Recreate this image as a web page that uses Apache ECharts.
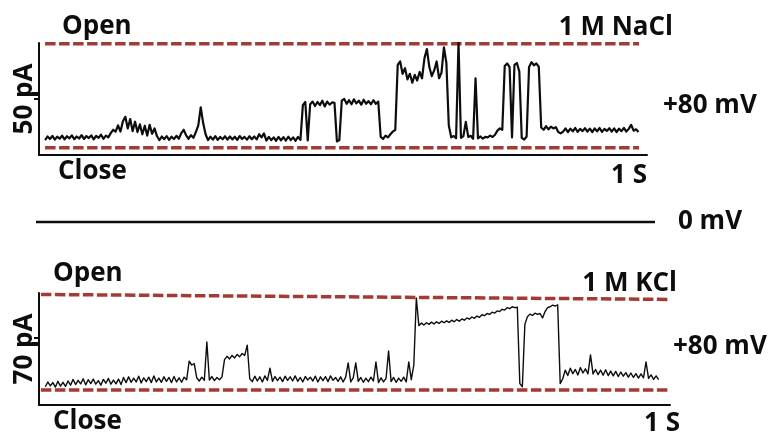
<!DOCTYPE html>
<html>
<head>
<meta charset="utf-8">
<script src="https://cdn.jsdelivr.net/npm/echarts@6/dist/echarts.min.js"></script>
<style>
  html, body { margin: 0; padding: 0; background: #fff; }
  #chart { width: 772px; height: 434px; }
</style>
</head>
<body>
<div id="chart"></div>
<script>
// Single-channel current recordings at +80 mV, sampled every 4 ms starting at 10 ms (values in pA)
const sampleStartMs = 10;
const sampleStepMs = 4;

const naclCurrent = [
  3.4,5.0,3.9,5.3,3.6,4.9,4.0,5.4,3.7,5.1,4.2,5.5,3.8,5.0,4.1,5.6,3.9,5.2,4.3,5.5,3.7,5.3,4.4,5.8,4.0,5.4,4.6,
  6.5,8.0,7.2,
  10.0,7.2,11.8,13.8,8.6,12.8,7.4,11.6,
  7.0,10.4,6.0,9.8,5.4,10.2,6.2,8.6,5.2,
  3.4,5.0,3.8,5.2,3.5,4.9,3.9,5.3,4.0,
  6.5,8.0,5.5,
  4.0,5.6,4.4,
  7.0,10.0,18.0,11.0,
  6.0,3.4,4.9,3.6,5.2,3.5,4.8,3.8,5.1,3.6,5.0,3.7,4.9,3.5,5.2,3.9,4.8,3.6,5.1,3.8,5.0,3.7,
  6.0,4.6,6.4,
  3.2,4.8,3.4,4.6,3.1,4.8,3.3,4.7,3.2,4.9,3.4,4.6,3.1,4.8,3.5,
  19.0,20.4,3.3,19.4,
  20.6,18.6,20.4,19.0,21.0,18.4,20.6,19.2,20.2,
  20.0,2.8,3.4,21.0,
  21.8,19.6,21.2,19.4,21.6,19.8,21.0,19.2,21.4,19.6,20.8,19.4,21.2,19.6,20.6,
  4.8,
  3.9,5.4,4.6,6.0,7.2,
  8.0,37.0,
  38.5,33.0,35.5,30.5,33.0,29.0,32.5,30.0,33.8,31.0,
  40.0,44.0,36.0,
  32.0,34.5,38.5,31.0,33.5,44.8,38.0,
  10.0,
  4.6,5.2,4.2,
  47.0,
  4.4,
  5.2,11.5,4.8,
  5.3,4.0,
  31.0,
  4.2,5.0,4.0,4.8,4.6,5.4,4.8,5.8,
  7.6,8.6,8.0,
  36.5,37.6,36.0,
  4.6,
  37.0,37.8,34.0,
  4.4,3.6,5.0,
  36.0,38.2,36.8,37.6,36.2,
  9.0,
  8.0,9.6,8.2,9.4,8.6,9.2,
  7.0,6.4,
  7.2,8.6,7.0,8.5,7.3,8.8,7.1,8.4,7.4,8.7,7.2,8.5,7.0,8.6,7.3,8.8,7.1,8.4,7.5,8.7,7.2,8.6,7.0,8.5,7.4,8.8,7.2,8.4,10.2,7.6,8.2,7.0
];

const kclCurrent = [
  2.0,5.0,2.6,4.6,1.8,5.4,2.4,4.8,2.2,5.6,3.0,
  6.6,3.4,6.0,3.8,7.0,3.2,6.4,4.0,6.8,3.6,5.8,3.0,6.6,4.2,7.2,3.6,6.2,3.8,6.8,3.4,
  7.8,4.6,8.2,4.8,7.4,5.0,8.6,4.4,7.6,5.2,8.0,4.6,8.8,5.0,7.4,4.8,8.2,5.4,7.8,4.6,8.4,5.0,7.6,4.8,8.0,6.4,
  18.0,15.6,16.4,
  7.6,5.6,8.0,6.0,
  30.0,
  6.2,8.4,5.8,7.8,6.4,8.2,
  19.0,21.0,19.4,21.6,20.0,22.2,20.8,22.8,21.6,
  28.0,
  7.0,
  5.2,8.6,5.6,8.2,5.0,8.8,6.0,
  13.6,
  5.4,8.4,5.8,8.0,5.2,8.6,6.0,8.2,5.6,8.8,5.4,7.8,5.0,8.4,6.2,8.0,5.6,8.6,5.0,8.2,5.8,8.4,5.2,8.8,6.0,7.8,5.4,8.2,5.0,8.0,
  16.9,
  5.0,7.6,16.9,5.4,7.8,4.8,7.4,5.2,8.0,5.6,17.5,4.6,7.6,5.0,7.2,24.4,5.2,7.8,4.8,7.4,5.4,8.0,5.0,17.5,6.4,15.6,
  57.5,
  40.2,41.8,40.6,42.0,41.0,42.4,41.2,42.6,41.6,43.0,42.0,43.2,42.2,43.6,42.6,44.0,43.0,44.4,43.6,45.0,44.2,45.6,44.8,
  46.2,45.4,47.0,46.4,47.8,47.2,48.6,48.0,49.4,49.0,50.4,50.0,51.4,50.8,52.0,51.4,51.8,
  4.0,2.0,41.0,
  45.8,47.4,46.6,48.0,47.2,47.8,
  45.0,
  49.0,51.4,52.0,53.0,52.4,53.2,
  4.0,
  7.0,12.4,9.0,13.6,10.2,12.8,9.4,14.0,10.6,13.2,10.0,21.9,
  10.0,12.8,9.6,12.4,9.2,12.6,9.0,11.8,8.8,11.6,8.4,11.2,8.6,10.8,8.0,10.6,7.8,10.2,7.4,10.0,7.6,17.5,7.2,9.4,6.6,8.8,6.4
];

// Recording at 0 mV: no current
const zeroMvTimeMs = [0, 250, 500, 750, 1000];
const zeroMvCurrent = [0, 0, 0, 0, 0];

// Closed and fully-open current levels (pA)
const naclLevelTimeMs = [10, 987];
const naclClosedLevel = [0, 0];
const naclOpenLevel = [46.4, 46.4];
const kclLevelTimeMs = [3, 998];
const kclClosedLevel = [0, 0];
const kclOpenLevel = [59.7, 56.6];

// Scale-bar tick positions on the current axes (pA)
const naclScaleTick = [22];
const kclScaleTick = [32.7];

const toSamples = arr => arr.map((v, i) => [sampleStartMs + i * sampleStepMs, v]);
const zipXY = (xs, ys) => xs.map((x, i) => [x, ys[i]]);

const FONT = '"Open Sans", "DejaVu Sans", sans-serif';
const LEVEL_COLOR = '#a43a36';
const INK = '#0d0d0d';

const hiddenX = gi => ({
  type: 'value', gridIndex: gi, min: 0, max: 1000,
  axisLine: { show: true, onZero: false, lineStyle: { color: INK, width: 2 } },
  axisTick: { show: false }, axisLabel: { show: false }, splitLine: { show: false }
});

const currentAxis = (gi, min, max, name, ticks) => ({
  type: 'value', gridIndex: gi, min, max,
  name, nameLocation: 'middle', nameRotate: 90, nameGap: 1.5,
  nameTextStyle: { fontFamily: FONT, fontWeight: 'bold', fontSize: 26, color: INK },
  axisLine: { show: true, onZero: false, lineStyle: { color: INK, width: 2 } },
  axisTick: { show: true, customValues: ticks, length: 5, lineStyle: { color: INK, width: 2 } },
  axisLabel: { show: false }, splitLine: { show: false }
});

const levelSeries = (xi, times, values) => ({
  type: 'line', xAxisIndex: xi, yAxisIndex: xi, data: zipXY(times, values),
  symbol: 'none', z: 1, silent: true,
  lineStyle: { color: LEVEL_COLOR, width: 3.5, type: [10.5, 3.5] }
});

const traceSeries = (xi, data, width) => ({
  type: 'line', xAxisIndex: xi, yAxisIndex: xi, data,
  symbol: 'none', z: 3, silent: true,
  lineStyle: { color: INK, width, join: 'round' }
});

const label = (text, x, y, align) => ({
  type: 'text', x, y, silent: true,
  style: {
    text, font: 'bold 26px ' + FONT, fill: INK,
    align, verticalAlign: 'middle', textAlign: align, textVerticalAlign: 'middle'
  }
});

const chart = echarts.init(document.getElementById('chart'), null, { renderer: 'canvas' });
chart.setOption({
  animation: false,
  backgroundColor: '#fff',
  grid: [
    { left: 39, top: 43, width: 608, height: 112 },
    { left: 36, top: 212, width: 619, height: 20 },
    { left: 39, top: 293, width: 631, height: 112 }
  ],
  xAxis: [
    hiddenX(0),
    Object.assign(hiddenX(1), { axisLine: { show: false } }),
    hiddenX(2)
  ],
  yAxis: [
    currentAxis(0, -3.26, 46.74, '50 pA', naclScaleTick),
    { type: 'value', gridIndex: 1, min: -1, max: 1, show: false },
    currentAxis(2, -9.4, 60.6, '70 pA', kclScaleTick)
  ],
  series: [
    levelSeries(0, naclLevelTimeMs, naclOpenLevel),
    levelSeries(0, naclLevelTimeMs, naclClosedLevel),
    traceSeries(0, toSamples(naclCurrent), 2.2),
    traceSeries(1, zipXY(zeroMvTimeMs, zeroMvCurrent), 2.6),
    levelSeries(2, kclLevelTimeMs, kclOpenLevel),
    levelSeries(2, kclLevelTimeMs, kclClosedLevel),
    traceSeries(2, toSamples(kclCurrent), 1.4)
  ],
  graphic: [
    label('Open', 62, 27, 'left'),
    label('1 M NaCl', 673, 27.5, 'right'),
    label('+80 mV', 663, 106, 'left'),
    label('Close', 58, 172, 'left'),
    label('1 S', 647, 176, 'right'),
    label('0 mV', 678, 221.5, 'left'),
    label('Open', 53, 274, 'left'),
    label('1 M KCl', 677, 283.5, 'right'),
    label('+80 mV', 673, 347, 'left'),
    label('Close', 53, 422, 'left'),
    label('1 S', 680, 424, 'right')
  ]
});
</script>
</body>
</html>
